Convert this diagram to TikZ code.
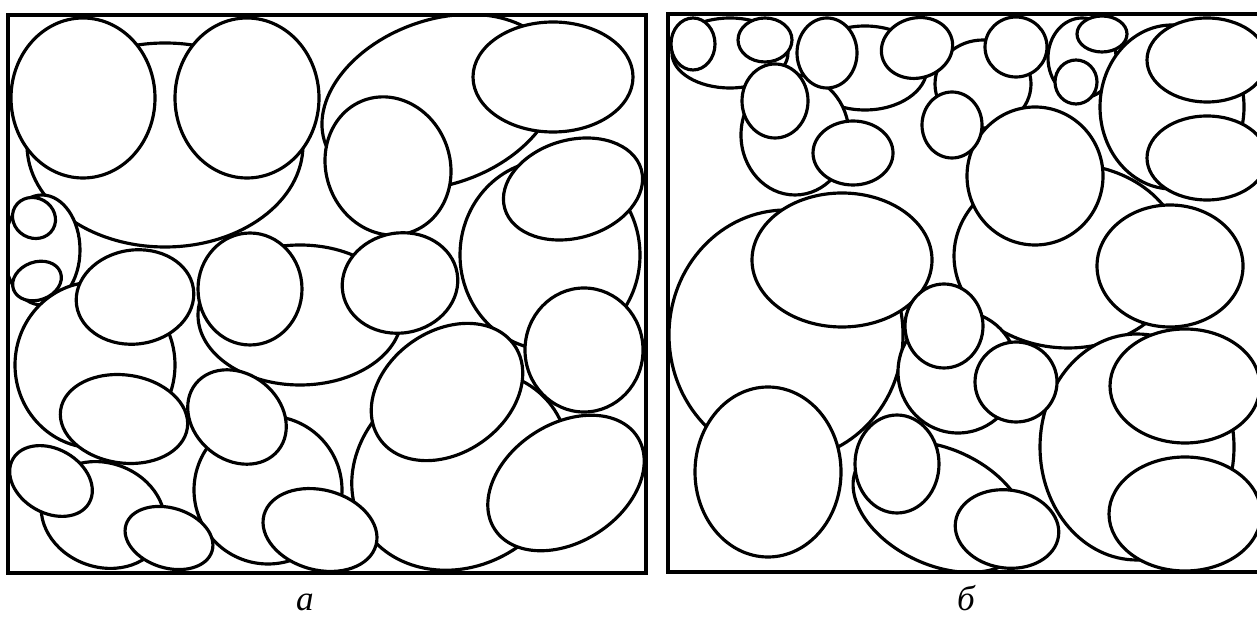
\documentclass[tikz,border=0pt]{standalone}
\usepackage{fontspec}
\setmainfont{Liberation Serif}
\definecolor{colLine}{RGB}{0,0,0}
\tikzset{
    grain/.style={draw=colLine, fill=white, line width=1.8pt},
    frame/.style={draw=colLine, line width=2.4pt},
    caption/.style={font=\fontsize{20}{24}\selectfont\itshape, inner sep=0pt, anchor=base}
}

\begin{document}
\begin{tikzpicture}[x=0.02cm, y=-0.02cm]
    \useasboundingbox[fill=white] (0,0) rectangle (1257,617);

    % panel a: back ellipses first, front ones last
    \begin{scope}
        \clip (8,15) rectangle (646,573);
        \foreach \cx/\cy/\rx/\ry/\ang in {
            165/145/138/102/0, 440/102/122/82/20, 550/255/90/95/0, 460/470/112/96/30,
            42/250/38/55/0, 95/365/80/83/0, 300/315/102/70/0, 103/515/63/52/-20, 268/490/74/74/0,
            83/98/72/80/0, 247/98/72/80/0, 388/166/62/70/20, 553/77/80/55/0, 573/189/71/49/16,
            584/350/59/62/0, 447/392/82/61/35, 566/483/85/59/33, 34/218/22/20/-30, 37/281/25/19/20,
            135/297/59/47/8, 124/419/64/44/-8, 237/417/53/43/-39, 51/481/44/32/-30, 169/538/45/30/-17,
            320/530/58/40/-15, 250/289/52/56/0, 400/283/58/50/10}
            \path[grain, rotate around={\ang:(\cx,\cy)}] (\cx,\cy) ellipse [x radius=\rx, y radius=\ry];
    \end{scope}
    \draw[frame] (8,15) rectangle (646,573);

    % panel b
    \begin{scope}
        \clip (668,14) rectangle (1259,572);
        \foreach \cx/\cy/\rx/\ry/\ang in {
            786/335/117/125/0, 1068/256/114/92/0, 1137/447/97/113/0, 940/507/92/58/-25,
            958/372/60/61/0, 730/53/58/35/0, 865/68/62/42/0, 795/135/54/60/0, 983/84/48/44/0,
            1082/58/34/40/0, 1172/107/72/82/0,
            693/44/22/26/0, 765/40/27/22/0, 827/53/30/35/0, 917/48/36/30/15, 775/101/33/37/0,
            853/153/40/32/0, 842/260/90/67/0, 768/472/73/85/0, 897/464/42/49/0, 1007/529/52/39/-8,
            1016/382/41/40/0, 944/326/39/42/0, 1035/176/68/69/0, 1170/266/73/61/0, 1185/514/76/57/0,
            1185/386/75/57/0, 1207/60/60/42/0, 1207/158/60/42/0, 1016/47/31/30/0, 952/125/30/33/0,
            1102/34/25/18/0, 1076/82/21/22/0}
            \path[grain, rotate around={\ang:(\cx,\cy)}] (\cx,\cy) ellipse [x radius=\rx, y radius=\ry];
    \end{scope}
    \draw[frame] (668,14) rectangle (1259,572);

    \node[caption] (capA) at (305,610) {а};
    \node[caption] (capB) at (966,610) {б};
\end{tikzpicture}
\end{document}
